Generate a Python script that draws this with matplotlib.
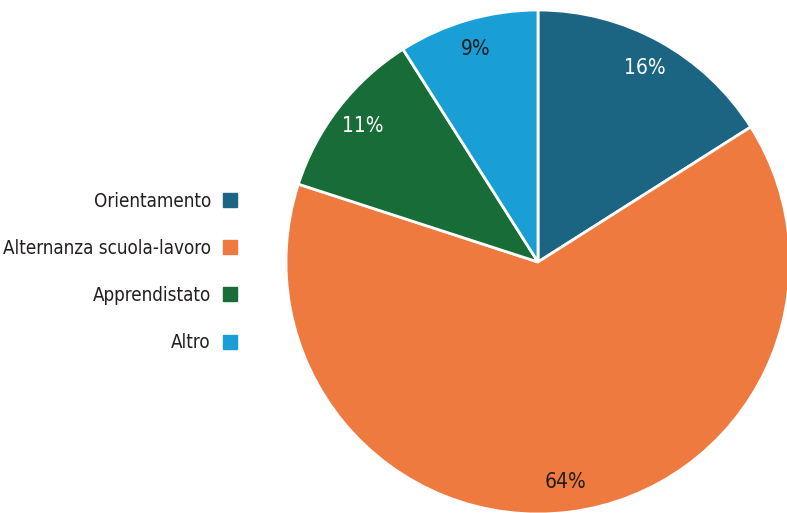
import matplotlib.pyplot as plt
from matplotlib.lines import Line2D

plt.rcParams["font.family"] = ["DejaVu Sans"]
plt.rcParams["font.stretch"] = "condensed"

# quote per tipo di percorso (%)
categorie = ["Orientamento", "Alternanza scuola-lavoro", "Apprendistato", "Altro"]
valori = [16, 64, 11, 9]
colori = ["#1b6482", "#ee7a3f", "#186c38", "#199fd6"]
colori_testo = ["white", "#231f20", "white", "#231f20"]

fig = plt.figure(figsize=(7.87, 5.13), dpi=100)
ax = fig.add_axes([0, 0, 1, 1])

wedges, texts, autotexts = ax.pie(
    valori,
    colors=colori,
    startangle=90,
    counterclock=False,
    radius=252,
    center=(538, 251),
    autopct="%.0f%%",
    pctdistance=0.88,
    wedgeprops=dict(edgecolor="white", linewidth=2),
    textprops=dict(fontsize=15),
    frame=True,
)
ax.set_xlim(0, 787)
ax.set_ylim(0, 513)
ax.set_aspect("equal")
ax.axis("off")
for t, c in zip(autotexts, colori_testo):
    t.set_color(c)

# legenda con il quadratino a destra del testo
handles = [
    Line2D([], [], marker="s", linestyle="none", markersize=10,
           markerfacecolor=c, markeredgecolor=c)
    for c in colori
]
leg = fig.legend(
    handles,
    categorie,
    loc="center right",
    bbox_to_anchor=(0.325, 0.47),
    markerfirst=False,
    frameon=False,
    fontsize=13.5,
    labelspacing=1.5,
    handletextpad=0.5,
    handlelength=1.0,
)
for t in leg.get_texts():
    t.set_color("#231f20")

fig.savefig("out.png", dpi=100)
